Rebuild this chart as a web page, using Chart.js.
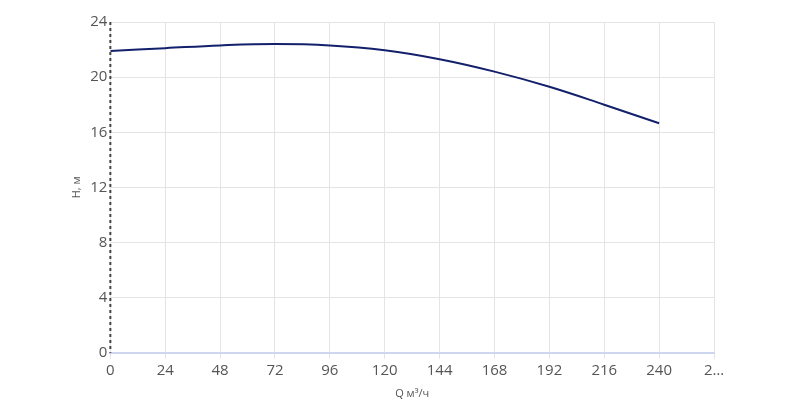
<!DOCTYPE html>
<html><head><meta charset="utf-8">
<script src="https://cdn.jsdelivr.net/npm/chart.js@4"></script>
<style>body{margin:0;background:#fff}#wrap{width:800px;height:408px}</style>
</head><body><div id="wrap"><canvas id="c"></canvas></div>
<script>
const flow = [0, 24, 48, 72, 96, 120, 144, 168, 192, 216, 240];
const head = [21.9, 22.1, 22.3, 22.4, 22.3, 21.95, 21.3, 20.4, 19.3, 18.0, 16.65];

// dashed left axis line
const dashedAxis = {
  id: "dashedAxis",
  afterDraw(chart) {
    const { ctx, chartArea } = chart;
    ctx.save();
    ctx.strokeStyle = "#444";
    ctx.lineWidth = 2;
    ctx.setLineDash([3, 3]);
    ctx.beginPath();
    ctx.moveTo(chartArea.left, chartArea.top);
    ctx.lineTo(chartArea.left, chartArea.bottom);
    ctx.stroke();
    ctx.restore();
  }
};

new Chart(document.getElementById("c"), {
  type: "line",
  data: {
    datasets: [{
      data: flow.map((q, i) => ({ x: q, y: head[i] })),
      borderColor: "#13206b",
      borderWidth: 2,
      pointRadius: 0,
      tension: 0.4,
      fill: false
    }]
  },
  options: {
    responsive: true,
    maintainAspectRatio: false,
    animation: false,
    layout: { padding: { left: 66, right: 86, top: 22, bottom: 4 } },
    plugins: { legend: { display: false }, tooltip: { enabled: false } },
    scales: {
      x: {
        type: "linear", min: 0, max: 264,
        ticks: {
          stepSize: 24, color: "#555", font: { family: "Open Sans", size: 15 },
          callback: v => v === 264 ? "2…" : v
        },
        grid: { color: "#e4e4e4", drawTicks: true, tickLength: 6 },
        border: { color: "#cdd5f0", width: 2 },
        title: { display: true, text: "Q м³/ч", color: "#555", font: { family: "Open Sans", size: 11 } }
      },
      y: {
        min: 0, max: 24,
        ticks: { stepSize: 4, color: "#555", font: { family: "Open Sans", size: 15 } },
        grid: { color: "#e4e4e4", drawTicks: false },
        border: { display: false },
        title: { display: true, text: "H, м", color: "#555", font: { family: "Open Sans", size: 11 } }
      }
    }
  },
  plugins: [dashedAxis]
});
</script></body></html>
